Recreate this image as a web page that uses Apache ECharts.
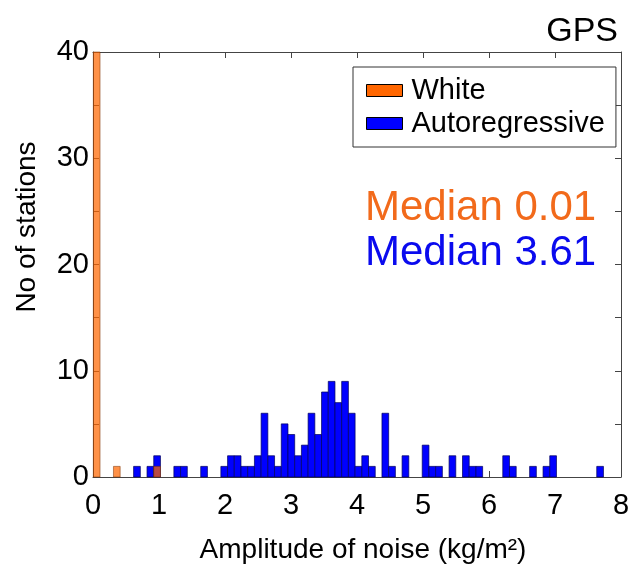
<!DOCTYPE html>
<html><head><meta charset="utf-8">
<script src="https://cdn.jsdelivr.net/npm/echarts@6/dist/echarts.min.js"></script>
<style>html,body{margin:0;padding:0;background:#fff}#chart{width:629px;height:564px}</style>
</head><body><div id="chart"></div>
<script>
// ---- data ----
const panelTitle = 'GPS';
const seriesNames = ['White', 'Autoregressive'];
const binStart = 0.005;      // left edge of first histogram bin
const binWidth = 0.1017;     // histogram bin width
const whiteCounts = [40,0,0,1,0,0,0,0,0,1];
const arCounts = [0,0,0,0,0,0,1,0,1,2, 0,0,1,1,0,0,1,0,0,1,
                  2,2,1,1,2,6,2,1,5,4, 2,3,6,4,8,9,7,9,6,1,
                  2,1,0,6,1,0,2,0,0,3, 1,1,0,2,0,2,1,1,0,0,
                  0,2,1,0,0,1,0,1,2,0, 0,0,0,0,0,1];
const medianWhite = 0.01;
const medianAR = 3.61;
const xTickLabels = [0,1,2,3,4,5,6,7,8];
const yTickLabels = [0,10,20,30,40];

// ---- chart ----
const FONT = '"Liberation Sans", Arial, Helvetica, sans-serif';
const AXIS = '#444';
const ORANGE = '#FF6600';
const BLUE = '#0000FF';

function histData(counts){
  return counts.map((c,i)=>[binStart+i*binWidth, binStart+(i+1)*binWidth, c]).filter(d=>d[2]>0);
}
function makeRender(fill, stroke, opacity){
  return function(params, api){
    const p0 = api.coord([api.value(0), api.value(2)]);
    const p1 = api.coord([api.value(1), 0]);
    return {type:'rect',
      shape:{x:p0[0], y:p0[1], width:p1[0]-p0[0], height:p1[1]-p0[1]},
      style:{fill:fill, stroke:stroke, lineWidth:0.7, opacity:opacity}};
  };
}
const tickStyle = {show:true, inside:true, length:6, lineStyle:{color:AXIS, width:1}};
const lineStyle = {show:true, onZero:false, lineStyle:{color:AXIS, width:1}};

const chart = echarts.init(document.getElementById('chart'));
chart.setOption({
  animation:false,
  backgroundColor:'#fff',
  title:{text:panelTitle, right:6, top:10,
    textStyle:{fontFamily:FONT, fontSize:34, fontWeight:'normal', color:'#000'}},
  legend:{
    data:seriesNames, orient:'vertical', left:353, top:67,
    backgroundColor:'#fff', borderColor:'#333', borderWidth:1,
    padding:[9,11,9,13], itemGap:4, itemWidth:36, itemHeight:12, icon:'rect',
    itemStyle:{borderColor:'#000', borderWidth:1, opacity:1},
    textStyle:{fontFamily:FONT, fontSize:29, color:'#000', padding:[0,0,0,4]}
  },
  grid:{left:93, right:8, top:52, bottom:87, containLabel:false, outerBoundsMode:'none'},
  xAxis:[{
    type:'value', min:0, max:8, interval:1,
    name:'Amplitude of noise (kg/m²)', nameLocation:'middle', nameGap:59,
    nameTextStyle:{fontFamily:FONT, fontSize:28, color:'#000', padding:[0,0,0,12]},
    axisLine:lineStyle, axisTick:tickStyle, splitLine:{show:false},
    axisLabel:{margin:14, fontFamily:FONT, fontSize:29, color:'#000',
      formatter:v=>xTickLabels.includes(v)?String(v):''}
  },{
    type:'value', position:'top', min:0, max:8, interval:1,
    axisLine:lineStyle, axisTick:tickStyle, axisLabel:{show:false}, splitLine:{show:false}
  }],
  yAxis:[{
    type:'value', min:0, max:40, interval:5,
    name:'No of stations', nameLocation:'middle', nameGap:52,
    nameTextStyle:{fontFamily:FONT, fontSize:28, color:'#000', padding:[0,0,0,75]},
    axisLine:lineStyle, axisTick:tickStyle, splitLine:{show:false},
    axisLabel:{margin:4, fontFamily:FONT, fontSize:29, color:'#000',
      formatter:v=>yTickLabels.includes(v)?String(v):''}
  },{
    type:'value', position:'right', min:0, max:40, interval:5,
    axisLine:lineStyle, axisTick:tickStyle, axisLabel:{show:false}, splitLine:{show:false}
  }],
  series:[{
    name:seriesNames[1], type:'custom', xAxisIndex:0, yAxisIndex:0,
    itemStyle:{color:BLUE},
    encode:{x:[0,1], y:2},
    renderItem:makeRender(BLUE, '#00005a', 1),
    data:histData(arCounts)
  },{
    name:seriesNames[0], type:'custom', xAxisIndex:0, yAxisIndex:0,
    itemStyle:{color:ORANGE},
    encode:{x:[0,1], y:2},
    renderItem:makeRender(ORANGE, '#7a3000', 0.72),
    data:histData(whiteCounts)
  }],
  graphic:[{
    type:'text', left:365, top:187,
    style:{text:'Median '+medianWhite.toFixed(2), fill:'#F26A1B', font:'42px '+FONT}
  },{
    type:'text', left:365, top:232,
    style:{text:'Median '+medianAR.toFixed(2), fill:'#0A0AEE', font:'42px '+FONT}
  }]
});
</script></body></html>
